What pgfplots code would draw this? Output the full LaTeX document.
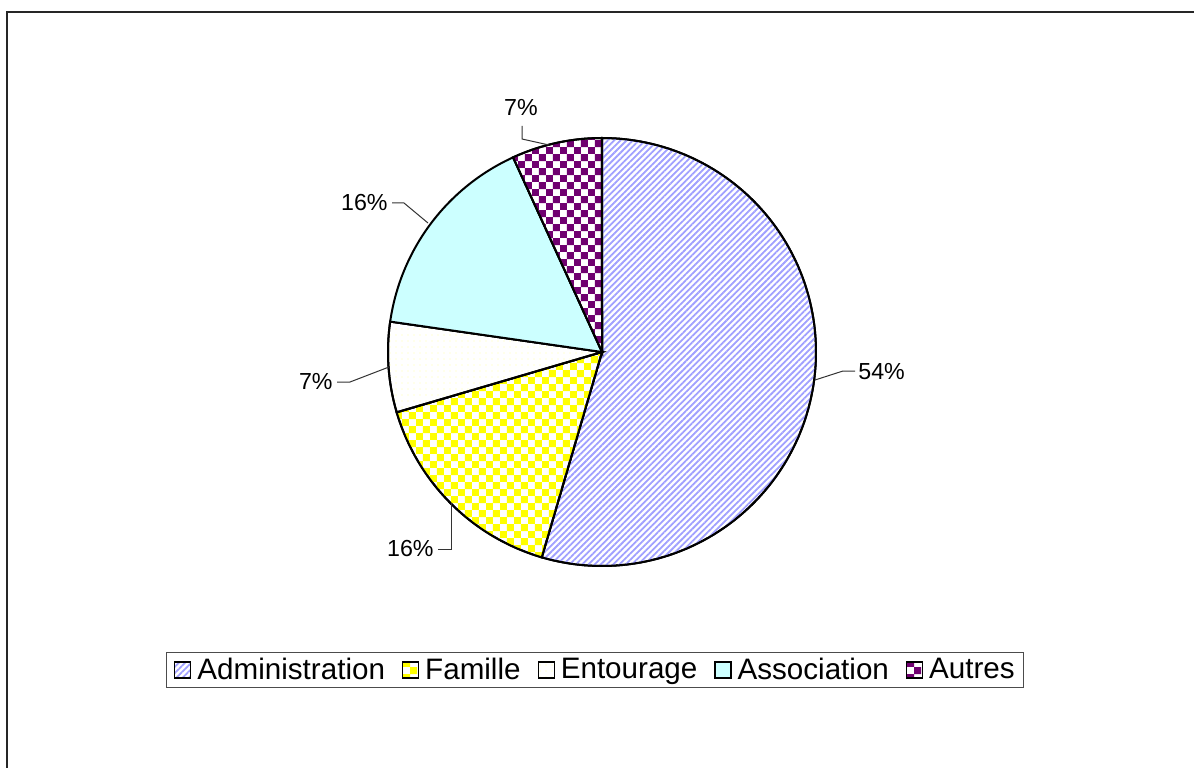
\documentclass[border=0pt]{standalone}
\usepackage{fontspec}
\setmainfont{Liberation Sans}
\usepackage{pgfplots}
\pgfplotsset{compat=1.18}
\usetikzlibrary{patterns,patterns.meta}
\pgfdeclarepatternformonly{checker}{\pgfpointorigin}{\pgfqpoint{7.2pt}{7.2pt}}{\pgfqpoint{7.2pt}{7.2pt}}{%
 \pgfpathrectangle{\pgfpointorigin}{\pgfqpoint{3.6pt}{3.6pt}}%
 \pgfpathrectangle{\pgfqpoint{3.6pt}{3.6pt}}{\pgfqpoint{3.6pt}{3.6pt}}%
 \pgfusepath{fill}}
\definecolor{adm}{RGB}{160,160,255}
\definecolor{fam}{RGB}{255,255,0}
\definecolor{ent}{RGB}{255,255,170}
\definecolor{asso}{RGB}{204,255,255}
\definecolor{aut}{RGB}{112,0,112}
% counts: Administration, Famille, Entourage, Association, Autres
\def\nA{24}\def\nB{7}\def\nC{3}\def\nD{7}\def\nE{3}
\pgfmathsetmacro\tot{\nA+\nB+\nC+\nD+\nE}
\pgfmathsetmacro\aA{90}
\pgfmathsetmacro\aB{\aA-\nA/\tot*360}
\pgfmathsetmacro\aC{\aB-\nB/\tot*360}
\pgfmathsetmacro\aD{\aC-\nC/\tot*360}
\pgfmathsetmacro\aE{\aD-\nD/\tot*360}
\pgfmathsetmacro\aF{\aE-\nE/\tot*360}
\def\cx{602}\def\cy{415}\def\R{214}
\begin{document}
\begin{tikzpicture}
\begin{axis}[
  x=0.5pt, y=0.5pt,
  xmin=0, xmax=1194, ymin=0, ymax=767,
  enlargelimits=false,
  hide axis, clip=true,
  legend columns=5,
  legend style={at={(axis cs:595,97)}, anchor=center,
    draw=black!70, line width=0.6pt,
    font=\fontsize{14.8}{17}\selectfont,
    inner xsep=4pt, inner ysep=2pt,
    nodes={inner sep=0.5pt},
    /tikz/every odd column/.append style={column sep=2.5pt},
    /tikz/every even column/.append style={column sep=8pt}},
  legend image code/.code={\draw[#1, line width=0.6pt] (0pt,-4pt) rectangle (8pt,4pt);},
]
\coordinate (bl) at (axis cs:0,0);
\coordinate (tr) at (axis cs:1194,767);
% frame
\addplot[forget plot, black!85, line width=1pt] coordinates {(7,-40) (7,755) (1240,755)};
% slices
\addplot[draw=black, line width=1pt, fill=white, postaction={pattern={Lines[angle=45,distance=2.2pt,line width=0.9pt]}, pattern color=adm}, domain=\aB:\aA, samples=120, variable=\t]
  ({\cx+\R*cos(\t)},{\cy+\R*sin(\t)}) -- (axis cs:\cx,\cy) -- cycle;
\addlegendentry{Administration}
\addplot[draw=black, line width=1pt, fill=white, postaction={pattern=checker, pattern color=fam}, domain=\aC:\aB, samples=50, variable=\t]
  ({\cx+\R*cos(\t)},{\cy+\R*sin(\t)}) -- (axis cs:\cx,\cy) -- cycle;
\addlegendentry{Famille}
\addplot[draw=black, line width=1pt, fill=white, postaction={pattern={Dots[distance=3pt,radius=0.3pt]}, pattern color=ent}, domain=\aD:\aC, samples=30, variable=\t]
  ({\cx+\R*cos(\t)},{\cy+\R*sin(\t)}) -- (axis cs:\cx,\cy) -- cycle;
\addlegendentry{Entourage}
\addplot[draw=black, line width=1pt, fill=asso, domain=\aE:\aD, samples=50, variable=\t]
  ({\cx+\R*cos(\t)},{\cy+\R*sin(\t)}) -- (axis cs:\cx,\cy) -- cycle;
\addlegendentry{Association}
\addplot[draw=black, line width=1pt, fill=white, postaction={pattern=checker, pattern color=aut}, domain=\aF:\aE, samples=30, variable=\t]
  ({\cx+\R*cos(\t)},{\cy+\R*sin(\t)}) -- (axis cs:\cx,\cy) -- cycle;
\addlegendentry{Autres}
% leader lines
\addplot[forget plot, black!80, line width=0.5pt] coordinates {(815,387) (843,396) (855,396)};
\addplot[forget plot, black!80, line width=0.5pt] coordinates {(438,218) (451,218) (451,264)};
\addplot[forget plot, black!80, line width=0.5pt] coordinates {(337,385) (350,385) (389,400)};
\addplot[forget plot, black!80, line width=0.5pt] coordinates {(392,564) (404,564) (428,544)};
\addplot[forget plot, black!80, line width=0.5pt] coordinates {(522,641) (522,628) (549,622)};
% labels
\node[anchor=west, inner sep=0pt, font=\fontsize{11.6}{13}\selectfont] at (axis cs:858,395) {54\%};
\node[anchor=east, inner sep=0pt, font=\fontsize{11.6}{13}\selectfont] at (axis cs:434,218) {16\%};
\node[anchor=east, inner sep=0pt, font=\fontsize{11.6}{13}\selectfont] at (axis cs:333,385) {7\%};
\node[anchor=east, inner sep=0pt, font=\fontsize{11.6}{13}\selectfont] at (axis cs:388,564) {16\%};
\node[anchor=center, inner sep=0pt, font=\fontsize{11.6}{13}\selectfont] at (axis cs:521,659) {7\%};
\end{axis}
\pgfresetboundingbox
\useasboundingbox (bl) rectangle (tr);
\end{tikzpicture}
\end{document}
